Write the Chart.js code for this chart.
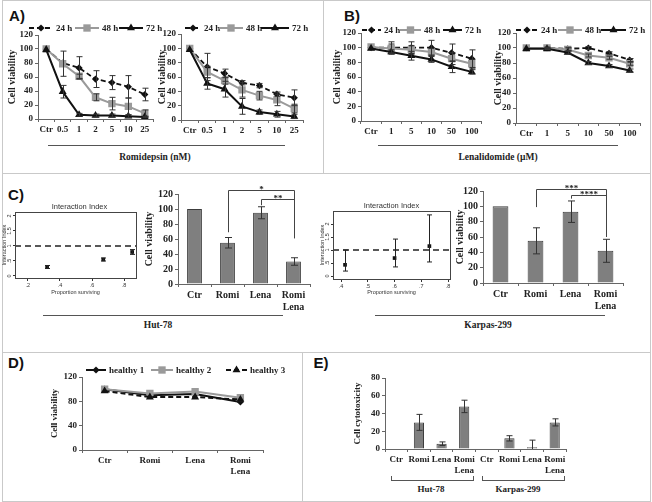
<!DOCTYPE html>
<html>
<head>
<meta charset="utf-8">
<title>Cell viability</title>
<script src="https://cdn.jsdelivr.net/npm/chart.js@4.4.1/dist/chart.umd.min.js"></script>
<style>
  html, body { margin: 0; padding: 0; background: #fff; }
  #fig { position: relative; width: 652px; height: 502px; overflow: hidden; color: #222;
         font-family: "Liberation Serif", "Times New Roman", serif; }
  #fig canvas { position: absolute; }
  .rule { position: absolute; background: #c9c9c9; }
  .uline { position: absolute; height: 1px; background: #555; }
  .txt { position: absolute; white-space: nowrap; font-weight: bold; font-size: 9.5px; transform: translate(-50%, -50%); }
  .panel { position: absolute; font-family: "Liberation Sans", Arial, sans-serif; font-weight: bold; font-size: 15px; color: #111; transform: translate(-50%, -50%); }
  .brace { position: absolute; height: 4px; border: 1px solid #555; border-top: none; }
</style>
</head>
<body>
<div id="fig">
  <div class="rule" style="left:2px;top:0;width:649px;height:1px"></div>
  <div class="rule" style="left:2px;top:501px;width:649px;height:1px"></div>
  <div class="rule" style="left:2px;top:0;width:1px;height:502px"></div>
  <div class="rule" style="left:650px;top:0;width:1px;height:502px"></div>
  <div class="rule" style="left:323px;top:0;width:1px;height:173px"></div>
  <div class="rule" style="left:2px;top:173px;width:649px;height:1px"></div>
  <div class="rule" style="left:2px;top:352px;width:649px;height:1px"></div>
  <div class="rule" style="left:302px;top:352px;width:1px;height:150px"></div>

  <div class="panel" style="left:17px;top:15px">A)</div>
  <div class="panel" style="left:352px;top:15px">B)</div>
  <div class="panel" style="left:16px;top:194px">C)</div>
  <div class="panel" style="left:16px;top:362px">D)</div>
  <div class="panel" style="left:321px;top:362px">E)</div>

  <div class="uline" style="left:48px;top:145px;width:237px"></div>
  <div class="txt" style="left:155px;top:157px">Romidepsin (nM)</div>
  <div class="uline" style="left:378px;top:145px;width:240px"></div>
  <div class="txt" style="left:498px;top:157px">Lenalidomide (µM)</div>

  <div class="uline" style="left:43px;top:315px;width:240px"></div>
  <div class="txt" style="left:158px;top:325px">Hut-78</div>
  <div class="uline" style="left:375px;top:315px;width:230px"></div>
  <div class="txt" style="left:488px;top:325px">Karpas-299</div>

  <div class="brace" style="left:391px;top:476px;width:81px"></div>
  <div class="txt" style="left:431px;top:489px;font-size:9px">Hut-78</div>
  <div class="brace" style="left:482px;top:476px;width:81px"></div>
  <div class="txt" style="left:518px;top:489px;font-size:9px">Karpas-299</div>
</div>

<script>
var SERIF = "'Liberation Serif', 'Times New Roman', serif";
var SANS = "'Liberation Sans', Arial, sans-serif";

// ---------- data ----------
var romiDoses = ["Ctr", "0.5", "1", "2", "5", "10", "25"];
var lenaDoses = ["Ctr", "1", "5", "10", "50", "100"];
var timeLabels = ["24 h", "48 h", "72 h"];

// A) romidepsin, Hut-78
var hutRomi24 = [100, 80, 73, 57, 52, 46, 35];
var hutRomi24Err = [0, 0, 16, 12, 10, 16, 9];
var hutRomi48 = [100, 79, 61, 31, 22, 18, 8];
var hutRomi48Err = [0, 18, 3, 5, 9, 12, 5];
var hutRomi72 = [99, 39, 6, 5, 5, 4, 3];
var hutRomi72Err = [0, 9, 2, 2, 2, 2, 1];

// A) romidepsin, Karpas-299
var karRomi24 = [100, 74, 65, 52, 48, 36, 31];
var karRomi24Err = [0, 19, 6, 3, 3, 3, 11];
var karRomi48 = [100, 67, 55, 42, 34, 28, 16];
var karRomi48Err = [0, 8, 5, 10, 6, 8, 6];
var karRomi72 = [98, 51, 43, 19, 11, 8, 5];
var karRomi72Err = [0, 8, 11, 11, 3, 4, 3];

// B) lenalidomide, Hut-78
var hutLena24 = [100, 100, 100, 100, 93, 85];
var hutLena24Err = [0, 8, 8, 10, 12, 12];
var hutLena48 = [101, 99, 97, 94, 85, 78];
var hutLena48Err = [0, 6, 6, 5, 8, 6];
var hutLena72 = [99, 94, 89, 84, 74, 67];
var hutLena72Err = [0, 3, 6, 4, 8, 3];

// B) lenalidomide, Karpas-299
var karLena24 = [100, 100, 99, 100, 93, 84];
var karLena24Err = [0, 1, 2, 2, 2, 2];
var karLena48 = [100, 100, 98, 90, 87, 79];
var karLena48Err = [0, 1, 2, 2, 2, 2];
var karLena72 = [99, 99, 94, 80, 76, 70];
var karLena72Err = [0, 1, 2, 2, 2, 2];

// C) combination
var treatments = ["Ctr", "Romi", "Lena", ["Romi", "Lena"]];
var hutViability = [100, 55, 95, 30];
var hutViabilityErr = [0, 7, 8, 5];
var karViability = [100, 55, 93, 42];
var karViabilityErr = [0, 17, 14, 15];

// C) interaction index
var hutSurviving = [0.32, 0.67, 0.85];
var hutIndex = [0.3, 0.55, 0.8];
var hutIndexLow = [0.25, 0.5, 0.72];
var hutIndexHigh = [0.35, 0.6, 0.88];
var karSurviving = [0.415, 0.6, 0.73];
var karIndex = [0.43, 0.69, 1.15];
var karIndexLow = [0.19, 0.35, 0.54];
var karIndexHigh = [1.0, 1.42, 2.35];
var interactionRef = 1;
var hutTicksX = [0.2, 0.4, 0.6, 0.8];
var karTicksX = [0.4, 0.5, 0.6, 0.7, 0.8];
var indexTicksY = [0, 0.5, 1, 1.5, 2];

// D) healthy donors
var healthyLabels = ["healthy 1", "healthy 2", "healthy 3"];
var healthy1 = [100, 90, 92, 79];
var healthy2 = [100, 93, 96, 86];
var healthy3 = [97, 87, 87, 83];

// E) cytotoxicity
var cytoLabels = ["Ctr", "Romi", "Lena", ["Romi", "Lena"], "Ctr", "Romi", "Lena", ["Romi", "Lena"]];
var cytotoxicity = [0, 30, 6, 48, 0, 12, 2, 30];
var cytotoxicityErr = [0, 9, 2, 7, 0, 3, 8, 4];

// ---------- plugins ----------
function marker(ctx, style, x, y, r) {
  var s = r * Math.SQRT1_2;
  ctx.beginPath();
  if (style === "rectRot") {
    ctx.moveTo(x, y - r); ctx.lineTo(x + r, y); ctx.lineTo(x, y + r); ctx.lineTo(x - r, y);
  } else if (style === "triangle") {
    ctx.moveTo(x, y - r); ctx.lineTo(x + r * 0.866, y + r * 0.5); ctx.lineTo(x - r * 0.866, y + r * 0.5);
  } else {
    ctx.rect(x - s, y - s, 2 * s, 2 * s);
  }
  ctx.closePath();
  ctx.fill();
}

var errorBars = {
  id: "errorBars",
  afterDatasetsDraw: function (chart, args, opts) {
    var ctx = chart.ctx, ys = chart.scales.y, cap = opts.cap || 3;
    ctx.save();
    ctx.lineWidth = 1;
    ctx.strokeStyle = opts.color || "#333";
    chart.data.datasets.forEach(function (ds, i) {
      if (!ds.err && !ds.errLow) return;
      chart.getDatasetMeta(i).data.forEach(function (el, j) {
        var raw = ds.data[j];
        var v = (raw !== null && typeof raw === "object") ? raw.y : raw;
        var lo = ds.errLow ? ds.errLow[j] : v - ds.err[j];
        var hi = ds.errHigh ? ds.errHigh[j] : v + ds.err[j];
        if (!(hi > lo)) return;
        var clipped = lo < ys.min;
        lo = Math.max(lo, ys.min);
        var x = Math.round(el.x) + 0.5;
        var y1 = ys.getPixelForValue(lo), y2 = ys.getPixelForValue(hi);
        ctx.beginPath();
        ctx.moveTo(x, y1); ctx.lineTo(x, y2);
        if (!clipped) { ctx.moveTo(x - cap, y1); ctx.lineTo(x + cap, y1); }
        ctx.moveTo(x - cap, y2); ctx.lineTo(x + cap, y2);
        ctx.stroke();
      });
    });
    ctx.restore();
  }
};

var lineLegend = {
  id: "lineLegend",
  afterDraw: function (chart, args, opts) {
    if (!opts.xs) return;
    var ctx = chart.ctx;
    ctx.save();
    ctx.font = "bold " + (opts.size || 9) + "px " + SERIF;
    ctx.textBaseline = "middle";
    chart.data.datasets.forEach(function (ds, i) {
      var x = opts.xs[i], len = opts.lens[i], y = opts.y;
      ctx.strokeStyle = ds.borderColor;
      ctx.lineWidth = ds.borderWidth;
      ctx.setLineDash(ds.borderDash || []);
      ctx.beginPath(); ctx.moveTo(x, y); ctx.lineTo(x + len, y); ctx.stroke();
      ctx.setLineDash([]);
      ctx.fillStyle = ds.pointBackgroundColor;
      marker(ctx, ds.pointStyle, x + len / 2, y, ds.pointRadius);
      ctx.fillStyle = "#222";
      ctx.fillText(ds.label, x + len + 3, y + 0.5);
    });
    ctx.restore();
  }
};

var sigBrackets = {
  id: "sigBrackets",
  afterDraw: function (chart, args, opts) {
    if (!opts.items) return;
    var xs = chart.scales.x, ys = chart.scales.y, ctx = chart.ctx;
    ctx.save();
    ctx.strokeStyle = "#444";
    ctx.lineWidth = 1;
    ctx.fillStyle = "#222";
    ctx.font = "bold 9px " + SERIF;
    ctx.textAlign = "center";
    opts.items.forEach(function (b) {
      var xa = Math.round(xs.getPixelForValue(b.from)) + 0.5;
      var xb = Math.round(xs.getPixelForValue(b.to)) + 0.5;
      var y = Math.round(ys.getPixelForValue(b.y)) + 0.5;
      ctx.beginPath();
      ctx.moveTo(xa, ys.getPixelForValue(b.yFrom));
      ctx.lineTo(xa, y); ctx.lineTo(xb, y);
      ctx.lineTo(xb, ys.getPixelForValue(b.yTo));
      ctx.stroke();
      ctx.fillText(b.text, (xa + xb) / 2, y + 1);
    });
    ctx.restore();
  }
};

// R-style frame round the plot, with its title above
var frameBox = {
  id: "frameBox",
  afterDraw: function (chart, args, opts) {
    if (!opts.on) return;
    var a = chart.chartArea, ctx = chart.ctx;
    ctx.save();
    ctx.strokeStyle = "#444";
    ctx.lineWidth = 1;
    ctx.strokeRect(Math.round(a.left) + 0.5, Math.round(a.top) + 0.5, Math.round(a.right - a.left), Math.round(a.bottom - a.top));
    if (opts.title) {
      ctx.fillStyle = "#333";
      ctx.font = "7.5px " + SANS;
      ctx.textAlign = "center";
      ctx.textBaseline = "middle";
      ctx.fillText(opts.title, (a.left + a.right) / 2 + (opts.titleShift || 0), a.top - 5);
    }
    ctx.restore();
  }
};

Chart.register(errorBars, lineLegend, sigBrackets, frameBox);
Chart.defaults.font.family = SERIF;
Chart.defaults.color = "#222";

// ---------- helpers ----------
function makeChart(box, area, yw, xh, config) {
  var cv = document.createElement("canvas");
  cv.width = box.w; cv.height = box.h;
  cv.style.left = box.x + "px"; cv.style.top = box.y + "px";
  cv.style.width = box.w + "px"; cv.style.height = box.h + "px";
  document.getElementById("fig").appendChild(cv);
  var o = config.options;
  o.responsive = false;
  o.animation = false;
  o.devicePixelRatio = 1;
  o.layout = { padding: {
    left: area.x0 - box.x - yw, top: area.y0 - box.y,
    right: box.x + box.w - area.x1, bottom: box.y + box.h - area.y1 - xh } };
  o.scales.x.afterFit = function (s) { s.height = xh; };
  o.scales.y.afterFit = function (s) { s.width = yw; };
  o.plugins = Object.assign({ legend: { display: false }, tooltip: { enabled: false } }, o.plugins || {});
  var leg = o.plugins.lineLegend;
  if (leg) {
    leg.xs = leg.xs.map(function (v) { return v - box.x; });
    leg.y = leg.y - box.y;
  }
  return new Chart(cv, config);
}

function excelX(size) {
  return {
    type: "category", offset: true,
    grid: { offset: true, drawOnChartArea: false, tickLength: 3, color: "#666" },
    border: { color: "#666" },
    ticks: { autoSkip: false, maxRotation: 0, minRotation: 0, padding: 2, color: "#222",
             font: { family: SERIF, weight: "bold", size: size } }
  };
}

function excelY(max, step, title, size, titleSize) {
  return {
    min: 0, max: max,
    ticks: { stepSize: step, padding: 2, color: "#222", font: { family: SERIF, weight: "bold", size: size } },
    grid: { drawOnChartArea: false, tickLength: 3, color: "#666" },
    border: { color: "#666" },
    title: { display: true, text: title, color: "#222", font: { family: SERIF, weight: "bold", size: titleSize } }
  };
}

var DASH_BLACK = { borderColor: "#111", pointBackgroundColor: "#111", borderWidth: 1.8, borderDash: [5, 3], pointStyle: "rectRot", pointRadius: 3.6 };
var SOLID_GRAY = { borderColor: "#9a9a9a", pointBackgroundColor: "#9a9a9a", borderWidth: 2, pointStyle: "rect", pointRadius: 5.2 };
var SOLID_BLACK = { borderColor: "#111", pointBackgroundColor: "#111", borderWidth: 2, pointStyle: "triangle", pointRadius: 4.6 };
var SOLID_BLACK_DIAMOND = { borderColor: "#111", pointBackgroundColor: "#111", borderWidth: 2, pointStyle: "rectRot", pointRadius: 3.6 };
var DASH_BLACK_TRI = { borderColor: "#111", pointBackgroundColor: "#111", borderWidth: 2, borderDash: [5, 3], pointStyle: "triangle", pointRadius: 4.6 };

function series(label, data, err, style, order) {
  return Object.assign({ label: label, data: data, err: err, order: order, tension: 0, fill: false, pointBorderWidth: 0 }, style);
}

function timeCourse(labels, d24, e24, d48, e48, d72, e72, legend) {
  return {
    type: "line",
    data: {
      labels: labels,
      datasets: [
        series(timeLabels[0], d24, e24, DASH_BLACK, 3),
        series(timeLabels[1], d48, e48, SOLID_GRAY, 2),
        series(timeLabels[2], d72, e72, SOLID_BLACK, 1)
      ]
    },
    options: {
      scales: { x: excelX(9), y: excelY(120, 20, "Cell viability", 9, 10) },
      plugins: { errorBars: { cap: 3 }, lineLegend: legend }
    }
  };
}

function barChart(values, errs, brackets, labelSize) {
  return {
    type: "bar",
    data: {
      labels: treatments,
      datasets: [{ data: values, err: errs, backgroundColor: "#7f7f7f", borderColor: "#3c3c3c", borderWidth: 1,
                   barPercentage: 0.45, categoryPercentage: 1 }]
    },
    options: {
      scales: { x: excelX(labelSize), y: excelY(120, 20, "Cell viability", 10, 10) },
      plugins: { errorBars: { cap: 3.5 }, sigBrackets: { items: brackets } }
    }
  };
}

function fmtR(v) {
  var s = String(v);
  return s.indexOf("0.") === 0 ? s.slice(1) : s;
}

function indexChart(xs, ys, lo, hi, xMin, xMax, yMin, yMax, xTicks, titleShift) {
  var tickFont = { family: SANS, size: 5.5 };
  return {
    type: "scatter",
    data: {
      datasets: [
        { data: xs.map(function (x, i) { return { x: x, y: ys[i] }; }), errLow: lo, errHigh: hi,
          pointStyle: "rect", pointRadius: 2.6, pointBackgroundColor: "#111", pointBorderWidth: 0 },
        { data: [{ x: xMin, y: interactionRef }, { x: xMax, y: interactionRef }], showLine: true,
          borderColor: "#222", borderWidth: 1.6, borderDash: [6, 4], pointRadius: 0 }
      ]
    },
    options: {
      scales: {
        x: {
          type: "linear", min: xMin, max: xMax,
          afterBuildTicks: function (s) { s.ticks = xTicks.map(function (v) { return { value: v }; }); },
          ticks: { callback: fmtR, padding: 1, color: "#333", font: tickFont },
          grid: { drawOnChartArea: false, tickLength: 3, color: "#333" },
          border: { display: false },
          title: { display: true, text: "Proportion surviving", color: "#333", font: { family: SANS, size: 5.5 } }
        },
        y: {
          type: "linear", min: yMin, max: yMax,
          afterBuildTicks: function (s) { s.ticks = indexTicksY.map(function (v) { return { value: v }; }); },
          ticks: { callback: fmtR, padding: 0, minRotation: 90, maxRotation: 90, crossAlign: "center", color: "#333", font: tickFont },
          grid: { drawOnChartArea: false, tickLength: 2, color: "#333" },
          border: { display: false },
          title: { display: true, text: "Interaction Index", color: "#333", font: { family: SANS, size: 5.5 }, padding: { top: 1, bottom: 0 } }
        }
      },
      plugins: { errorBars: { cap: 2.5, color: "#222" }, frameBox: { on: true, title: "Interaction Index", titleShift: titleShift } }
    }
  };
}

// ---------- A) ----------
makeChart({ x: 2, y: 18, w: 164, h: 124 }, { x0: 38, y0: 35, x1: 153, y1: 119 }, 36, 20,
  timeCourse(romiDoses, hutRomi24, hutRomi24Err, hutRomi48, hutRomi48Err, hutRomi72, hutRomi72Err,
    { xs: [29, 75, 119], lens: [24, 24, 24], y: 28 }));
makeChart({ x: 152, y: 18, w: 160, h: 124 }, { x0: 181, y0: 34, x1: 303, y1: 120 }, 29, 20,
  timeCourse(romiDoses, karRomi24, karRomi24Err, karRomi48, karRomi48Err, karRomi72, karRomi72Err,
    { xs: [185, 219, 261], lens: [16, 24, 28], y: 28 }));

// ---------- B) ----------
makeChart({ x: 327, y: 18, w: 160, h: 126 }, { x0: 361, y0: 33, x1: 484, y1: 121 }, 34, 20,
  timeCourse(lenaDoses, hutLena24, hutLena24Err, hutLena48, hutLena48Err, hutLena72, hutLena72Err,
    { xs: [362, 400, 443], lens: [19, 21, 19], y: 30 }));
makeChart({ x: 488, y: 18, w: 160, h: 126 }, { x0: 516, y0: 33, x1: 640, y1: 123 }, 28, 20,
  timeCourse(lenaDoses, karLena24, karLena24Err, karLena48, karLena48Err, karLena72, karLena72Err,
    { xs: [516, 558, 601], lens: [22, 24, 25], y: 30 }));

// ---------- C) ----------
makeChart({ x: 0, y: 195, w: 142, h: 105 }, { x0: 15, y0: 212, x1: 136, y1: 278 }, 15, 22,
  indexChart(hutSurviving, hutIndex, hutIndexLow, hutIndexHigh, 0.12, 0.874, -0.067, 2.133, hutTicksX, 4));
makeChart({ x: 318, y: 195, w: 136, h: 105 }, { x0: 333, y0: 211, x1: 450, y1: 279 }, 15, 21,
  indexChart(karSurviving, karIndex, karIndexLow, karIndexHigh, 0.37, 0.807, -0.115, 2.5, karTicksX, 0));

makeChart({ x: 139, y: 176, w: 175, h: 140 }, { x0: 178, y0: 194, x1: 310, y1: 284 }, 39, 30,
  barChart(hutViability, hutViabilityErr, [
    { from: 1, to: 3, y: 125, yFrom: 69, yTo: 61, text: "*" },
    { from: 2, to: 3, y: 113, yFrom: 105, yTo: 61, text: "**" }
  ], 10));
makeChart({ x: 450, y: 176, w: 178, h: 140 }, { x0: 483, y0: 191, x1: 623, y1: 283 }, 33, 30,
  barChart(karViability, karViabilityErr, [
    { from: 1, to: 3, y: 122.5, yFrom: 99, yTo: 60, text: "***" },
    { from: 2, to: 3, y: 114.5, yFrom: 110, yTo: 60, text: "****" }
  ], 10));

// ---------- D) ----------
makeChart({ x: 45, y: 360, w: 240, h: 118 }, { x0: 82, y0: 377, x1: 263, y1: 450 }, 37, 28, {
  type: "line",
  data: {
    labels: treatments,
    datasets: [
      series(healthyLabels[0], healthy1, null, SOLID_BLACK_DIAMOND, 3),
      series(healthyLabels[1], healthy2, null, SOLID_GRAY, 2),
      series(healthyLabels[2], healthy3, null, DASH_BLACK_TRI, 1)
    ]
  },
  options: {
    scales: { x: excelX(9), y: excelY(120, 20, "Cell viability", 9, 9) },
    plugins: { lineLegend: { xs: [86, 151, 226], lens: [20, 22, 21], y: 370 } }
  }
});

// ---------- E) ----------
makeChart({ x: 348, y: 368, w: 222, h: 105 }, { x0: 385, y0: 378, x1: 566, y1: 449 }, 37, 24, {
  type: "bar",
  data: {
    labels: cytoLabels,
    datasets: [{ data: cytotoxicity, err: cytotoxicityErr, backgroundColor: "#7f7f7f", borderColor: "#3c3c3c",
                 borderWidth: 1, barPercentage: 0.45, categoryPercentage: 1 }]
  },
  options: {
    scales: { x: excelX(9), y: excelY(80, 20, "Cell cytotoxicity", 9, 9) },
    plugins: { errorBars: { cap: 3 } }
  }
});
</script>
</body>
</html>
